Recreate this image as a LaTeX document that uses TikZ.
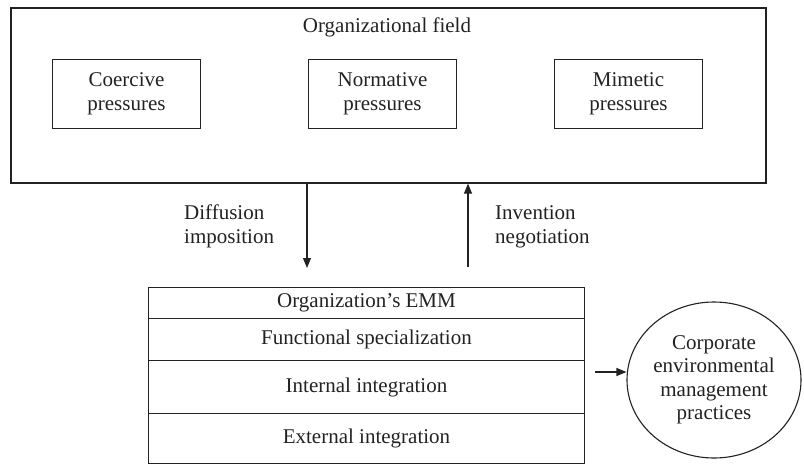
\documentclass[tikz,border=0pt]{standalone}
\usepackage{fontspec}
\setmainfont{Liberation Serif}
\newfontfamily\diagfont{Liberation Serif}
\usetikzlibrary{arrows.meta,shapes.geometric}
\definecolor{ink}{HTML}{222222}
\begin{document}
\begin{tikzpicture}[x=1pt,y=-1pt,
  every node/.style={font=\diagfont\fontsize{21}{24}\selectfont, text=ink},
  outerbox/.style={draw=ink, line width=1.6pt, anchor=north west, inner sep=0},
  pbox/.style={draw=ink, line width=1pt, anchor=north west, inner sep=0, align=center, minimum width=148pt, minimum height=69pt},
  rowbox/.style={draw=ink, line width=1pt, anchor=north west, inner sep=0, minimum width=436pt},
  arr/.style={draw=ink, line width=1.1pt, -{Triangle[length=10pt,width=8pt]}},
  lbl/.style={align=left, anchor=north west, inner sep=0}
]
\useasboundingbox (0,0) rectangle (804,464);
% organizational field
\node[outerbox, minimum width=755pt, minimum height=175pt] (field) at (10,7) {};
\node (ftitle) at (387,27) {Organizational field};
\node[pbox] (coer) at (52,59) {Coercive\\pressures};
\node[pbox] (norm) at (308,59) {Normative\\pressures};
\node[pbox] (mim) at (554,59) {Mimetic\\pressures};
% arrows
\coordinate (dtip) at (307,268);
\coordinate (ubase) at (468,267);
\draw[arr] (dtip |- field.south) -- (dtip);
\draw[arr] (ubase) -- (ubase |- field.south);
\node[lbl] (diff) at (184,205) {Diffusion\\imposition};
\node[lbl] (inv) at (495,205) {Invention\\negotiation};
% table
\node[rowbox, minimum height=31pt] (r1) at (148,287) {Organization’s EMM};
\node[rowbox, minimum height=42pt] (r2) at (148,318) {Functional specialization};
\node[rowbox, minimum height=53pt] (r3) at (148,360) {Internal integration};
\node[rowbox, minimum height=50pt] (r4) at (148,413) {External integration};
% outcome
\node[ellipse, draw=ink, line width=1.1pt, minimum width=174pt, minimum height=156pt, inner sep=0, align=center, font=\diagfont\fontsize{21}{23.5}\selectfont] (cemp) at (714,380) {Corporate\\environmental\\management\\practices};
\coordinate (rstart) at (595,372);
\draw[arr] (rstart) -- (rstart -| cemp.west);
\end{tikzpicture}
\end{document}
